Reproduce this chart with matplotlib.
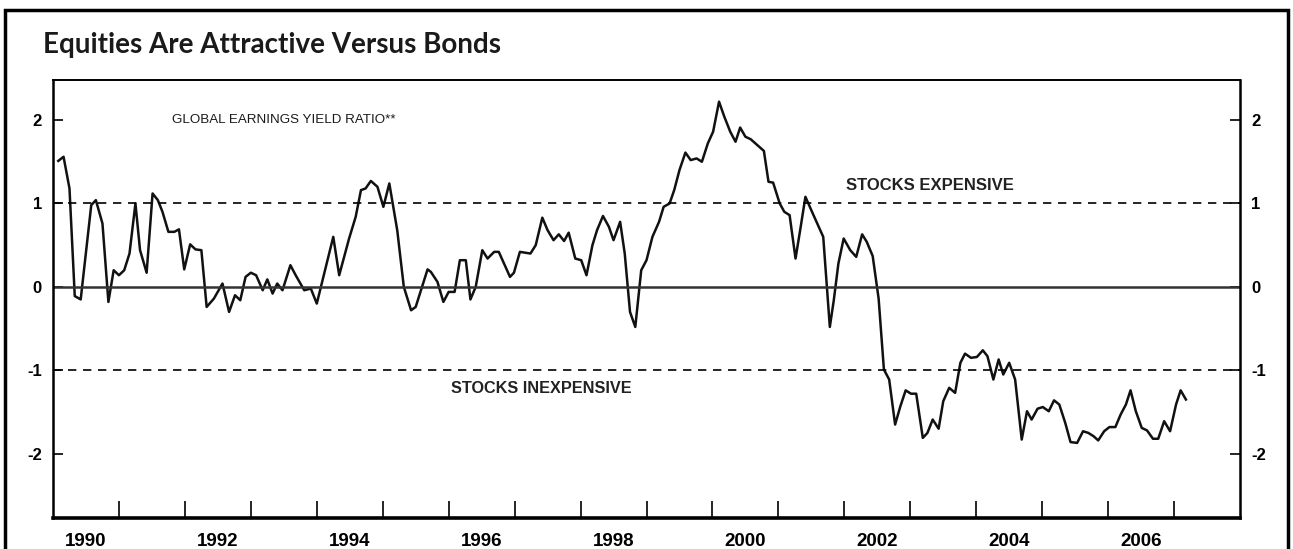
import matplotlib
matplotlib.use("Agg")
import matplotlib.pyplot as plt
import matplotlib.patches as patches
import numpy as np

# data (decimal year, ratio)
years = [
    1990.08, 1990.16, 1990.25, 1990.33, 1990.42, 1990.58, 1990.65, 1990.75, 1990.84, 1990.92,
    1991.00, 1991.08, 1991.16, 1991.25, 1991.32, 1991.42, 1991.51, 1991.59, 1991.66, 1991.75,
    1991.84, 1991.91, 1991.99, 1992.08, 1992.16, 1992.25, 1992.33, 1992.44, 1992.57, 1992.67,
    1992.76, 1992.84, 1992.92, 1993.00, 1993.08, 1993.18, 1993.25, 1993.33, 1993.40, 1993.48,
    1993.60, 1993.68, 1993.81, 1993.91, 1994.00, 1994.25, 1994.34, 1994.49, 1994.59, 1994.67,
    1994.74, 1994.82, 1994.92, 1995.01, 1995.10, 1995.22, 1995.32, 1995.43, 1995.50, 1995.68,
    1995.73, 1995.83, 1995.92, 1996.00, 1996.09, 1996.17, 1996.26, 1996.33, 1996.41, 1996.51,
    1996.59, 1996.69, 1996.76, 1996.93, 1996.99, 1997.08, 1997.24, 1997.32, 1997.42, 1997.50,
    1997.59, 1997.67, 1997.75, 1997.82, 1997.92, 1998.01, 1998.09, 1998.18, 1998.25, 1998.34,
    1998.43, 1998.50, 1998.60, 1998.67, 1998.75, 1998.83, 1998.92, 1999.00, 1999.09, 1999.19,
    1999.26, 1999.35, 1999.42, 1999.50, 1999.59, 1999.67, 1999.76, 1999.84, 1999.93, 2000.01,
    2000.10, 2000.18, 2000.27, 2000.35, 2000.42, 2000.50, 2000.58, 2000.68, 2000.78, 2000.85,
    2000.92, 2001.02, 2001.09, 2001.17, 2001.26, 2001.33, 2001.41, 2001.51, 2001.68, 2001.78,
    2001.84, 2001.91, 2001.99, 2002.09, 2002.18, 2002.27, 2002.34, 2002.43, 2002.52, 2002.60,
    2002.68, 2002.77, 2002.85, 2002.93, 2003.01, 2003.09, 2003.19, 2003.26, 2003.34, 2003.43,
    2003.50, 2003.59, 2003.68, 2003.76, 2003.83, 2003.92, 2004.01, 2004.10, 2004.17, 2004.26,
    2004.34, 2004.41, 2004.50, 2004.59, 2004.69, 2004.77, 2004.84, 2004.93, 2005.01, 2005.10,
    2005.18, 2005.26, 2005.35, 2005.43, 2005.53, 2005.62, 2005.70, 2005.78, 2005.85, 2005.94,
    2006.02, 2006.11, 2006.19, 2006.27, 2006.34, 2006.42, 2006.51, 2006.59, 2006.68, 2006.76,
    2006.85, 2006.94, 2007.03, 2007.10, 2007.18,
]
ratio = [
    1.51, 1.56, 1.18, -0.11, -0.15, 0.98, 1.04, 0.76, -0.18, 0.20,
    0.14, 0.20, 0.40, 1.00, 0.44, 0.17, 1.12, 1.04, 0.90, 0.66,
    0.66, 0.69, 0.21, 0.51, 0.45, 0.44, -0.24, -0.14, 0.04, -0.30,
    -0.10, -0.16, 0.12, 0.17, 0.14, -0.04, 0.09, -0.08, 0.04, -0.04,
    0.26, 0.14, -0.04, -0.02, -0.20, 0.60, 0.14, 0.58, 0.84, 1.16,
    1.18, 1.27, 1.20, 0.96, 1.24, 0.68, 0.00, -0.28, -0.24, 0.21,
    0.18, 0.06, -0.18, -0.06, -0.06, 0.32, 0.32, -0.15, 0.00, 0.44,
    0.34, 0.42, 0.42, 0.12, 0.17, 0.42, 0.40, 0.50, 0.83, 0.68,
    0.56, 0.63, 0.55, 0.65, 0.34, 0.32, 0.14, 0.50, 0.68, 0.85,
    0.72, 0.56, 0.78, 0.40, -0.30, -0.48, 0.20, 0.32, 0.60, 0.78,
    0.96, 1.00, 1.16, 1.40, 1.61, 1.52, 1.54, 1.50, 1.72, 1.86,
    2.22, 2.04, 1.86, 1.74, 1.91, 1.80, 1.77, 1.70, 1.63, 1.26,
    1.25, 1.00, 0.90, 0.86, 0.34, 0.68, 1.08, 0.90, 0.60, -0.48,
    -0.16, 0.28, 0.58, 0.44, 0.36, 0.63, 0.54, 0.37, -0.14, -0.99,
    -1.11, -1.65, -1.43, -1.24, -1.28, -1.28, -1.81, -1.75, -1.59, -1.70,
    -1.37, -1.21, -1.27, -0.91, -0.80, -0.85, -0.84, -0.76, -0.83, -1.11,
    -0.87, -1.05, -0.91, -1.11, -1.83, -1.49, -1.59, -1.46, -1.44, -1.49,
    -1.36, -1.41, -1.63, -1.86, -1.87, -1.73, -1.75, -1.79, -1.84, -1.73,
    -1.68, -1.68, -1.53, -1.41, -1.24, -1.49, -1.69, -1.72, -1.82, -1.82,
    -1.61, -1.73, -1.41, -1.24, -1.35,
]
year_labels = list(range(1990, 2007, 2))
y_ticks = [-2, -1, 0, 1, 2]
expensive_level = 1
inexpensive_level = -1

narrow = ["Liberation Sans Narrow", "Liberation Sans"]

fig = plt.figure(figsize=(12.93, 5.49), dpi=100)
ax = fig.add_axes([53 / 1293, 31 / 549, 1187 / 1293, 438 / 549])

# outer frame of the exhibit
fig.patches.append(patches.Rectangle((5 / 1293, -0.1), 1283 / 1293, 1.1 - 10 / 549,
                                     transform=fig.transFigure, fill=False,
                                     edgecolor="black", linewidth=2.5))

fig.text(43 / 1293, 1 - 45 / 549, "Equities Are Attractive Versus Bonds",
         fontsize=20, fontweight="bold", family="Lato", color="#1a1a1a", va="center")

ax.plot(years, ratio, color="#111111", linewidth=1.8)
ax.axhline(0, color="#333333", linewidth=1.8)
ax.axhline(expensive_level, color="black", linewidth=1.2, linestyle=(0, (5, 4)))
ax.axhline(inexpensive_level, color="black", linewidth=1.2, linestyle=(0, (5, 4)))

ax.text(1991.8, 2.0, "GLOBAL EARNINGS YIELD RATIO**", fontsize=9.6,
        family="Liberation Sans", color="#1a1a1a", va="center")
ax.text(2003.3, 1.22, "STOCKS EXPENSIVE", fontsize=12, fontweight="bold",
        family=narrow, color="#222222", va="center", ha="center")
ax.text(1997.4, -1.22, "STOCKS INEXPENSIVE", fontsize=11.7, fontweight="bold",
        family=narrow, color="#222222", va="center", ha="center")

ax.set_xlim(1990, 2008)
ax.set_ylim(-2.77, 2.48)

ax.set_xticks(np.arange(1991, 2008))
ax.set_xticklabels([])
ax.set_xticks([y + 0.5 for y in year_labels], minor=True)
ax.set_xticklabels([str(y) for y in year_labels], minor=True,
                   fontsize=13.5, fontweight="bold", family=narrow)
ax.tick_params(axis="x", which="major", direction="in", length=12.5, width=1.2)
ax.tick_params(axis="x", which="minor", length=0, pad=11)

ax.set_yticks(y_ticks)
ax.set_yticklabels([str(v) for v in y_ticks], fontsize=12, fontweight="bold",
                   family="Liberation Sans")
ax.tick_params(axis="y", direction="in", length=7, width=1.2, pad=8,
               left=True, right=True, labelleft=True, labelright=True)

for side in ["left", "right"]:
    ax.spines[side].set_linewidth(1.8)
ax.spines["top"].set_linewidth(1.4)
ax.spines["bottom"].set_linewidth(2.6)

fig.savefig("out.png", dpi=100)
